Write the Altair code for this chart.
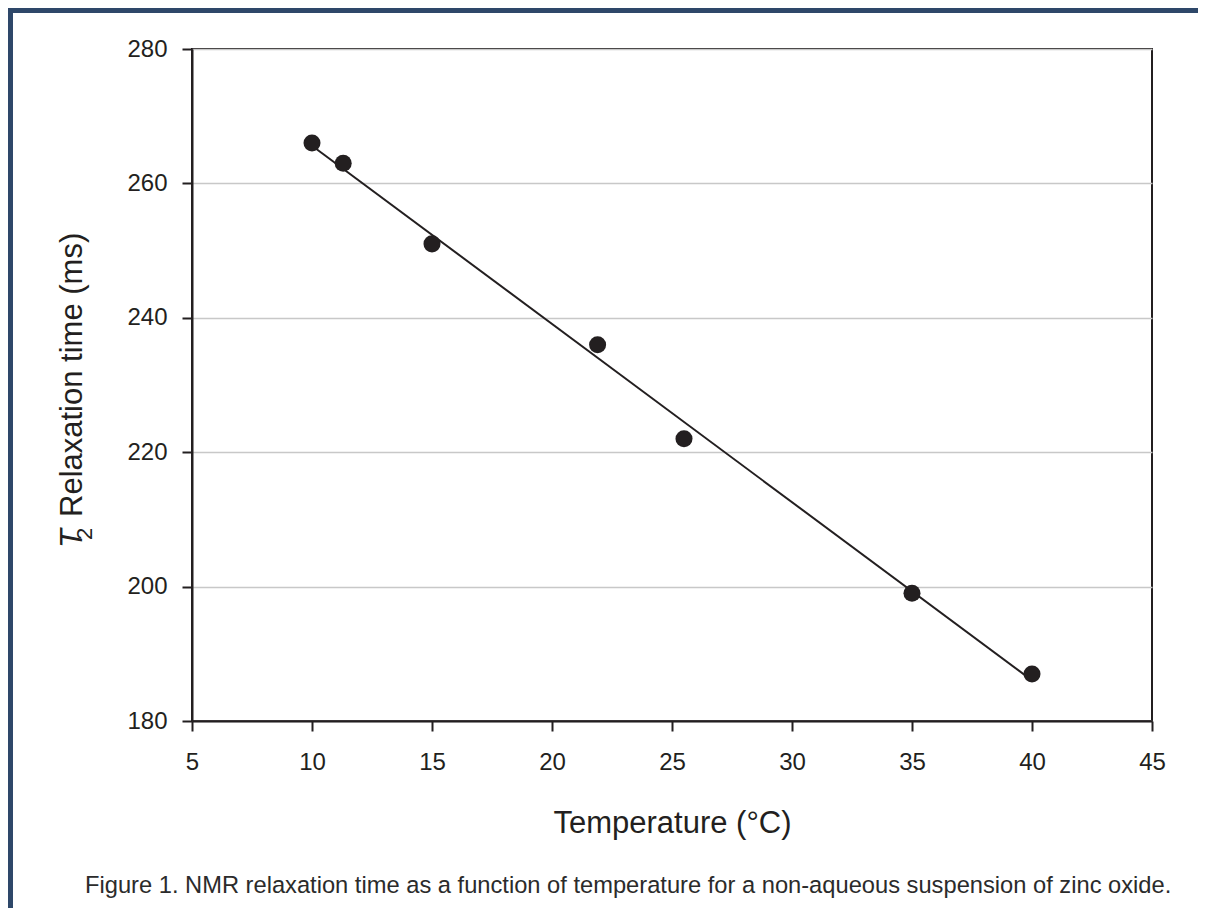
import altair as alt
import pandas as pd

# ---- data ----
temperature = [10.0, 11.3, 15.0, 21.9, 25.5, 35.0, 40.0]
t2_ms = [266, 263, 251, 236, 222, 199, 187]
x_ticks = [5, 10, 15, 20, 25, 30, 35, 40, 45]
y_ticks = [180, 200, 220, 240, 260, 280]
x_title = "Temperature (°C)"
y_title_T = "T"
y_title_sub = "2"
y_title_rest = "Relaxation time (ms)"
caption = ("Figure 1. NMR relaxation time as a function of temperature "
           "for a non-aqueous suspension of zinc oxide.")

df = pd.DataFrame({"temp": temperature, "t2": t2_ms})

W, H = 960, 672
PAD = {"left": 184, "top": 41, "right": 46, "bottom": 187}
INK = "#231f20"
NAVY = "#2e4769"
FONT = "Liberation Sans"

xenc = alt.X(
    "temp:Q",
    scale=alt.Scale(domain=[5, 45], nice=False, zero=False),
    axis=alt.Axis(values=x_ticks, title=x_title, grid=False,
                  labelPadding=19, titlePadding=34,
                  labelFlush=False, labelOverlap=False),
)
yenc = alt.Y(
    "t2:Q",
    scale=alt.Scale(domain=[180, 280], nice=False, zero=False),
    axis=alt.Axis(values=y_ticks, title=None, grid=True, labelPadding=15,
                  labelFlush=False, labelOverlap=False),
)

base = alt.Chart(df)
fit_line = (
    base.transform_regression("temp", "t2")
    .mark_line(color=INK, strokeWidth=2)
    .encode(x=xenc, y=yenc)
)
points = base.mark_circle(size=290, color=INK, opacity=1).encode(x=xenc, y=yenc)

one = pd.DataFrame({"k": [0]})
left_border = alt.Chart(one).mark_rule(color=NAVY, strokeWidth=5).encode(
    x=alt.value(-PAD["left"] + 2.5),
    y=alt.value(-PAD["top"]),
    y2=alt.value(H + PAD["bottom"]),
)
top_border = alt.Chart(one).mark_rule(color=NAVY, strokeWidth=5).encode(
    x=alt.value(-PAD["left"]),
    x2=alt.value(W + PAD["right"]),
    y=alt.value(-PAD["top"] + 2.5),
)

ytT = alt.Chart(pd.DataFrame({"label": [y_title_T]})).mark_text(
    font=FONT, color=INK, fontSize=31, fontStyle="italic", angle=270,
    align="left", baseline="alphabetic",
).encode(text="label:N", x=alt.value(-110.3), y=alt.value(499))

ytSub = alt.Chart(pd.DataFrame({"label": [y_title_sub]})).mark_text(
    font=FONT, color=INK, fontSize=22, angle=270,
    align="left", baseline="alphabetic",
).encode(text="label:N", x=alt.value(-100.3), y=alt.value(491))

ytRest = alt.Chart(pd.DataFrame({"label": [y_title_rest]})).mark_text(
    font=FONT, color=INK, fontSize=31, angle=270,
    align="left", baseline="alphabetic",
).encode(text="label:N", x=alt.value(-110.3), y=alt.value(468))

cap = alt.Chart(pd.DataFrame({"label": [caption]})).mark_text(
    font=FONT, color="#2b2b2b", fontSize=23.7,
    align="left", baseline="alphabetic",
).encode(text="label:N", x=alt.value(-107), y=alt.value(844))

chart = (
    alt.layer(left_border, top_border, fit_line, points, ytT, ytSub, ytRest, cap)
    .properties(
        width=W,
        height=H,
        padding=PAD,
        autosize=alt.AutoSizeParams(type="none"),
        background="white",
    )
    .configure_view(stroke=INK, strokeWidth=2)
    .configure_axis(
        labelFont=FONT,
        labelFontSize=24,
        labelColor=INK,
        titleFont=FONT,
        titleFontSize=31,
        titleFontWeight="normal",
        titleColor=INK,
        domainColor=INK,
        domainWidth=2,
        tickColor=INK,
        tickWidth=2,
        tickSize=10,
        gridColor="#c8c8c8",
        gridWidth=1.5,
    )
)

chart.save("out.html", embed_options={"renderer": "svg", "actions": False})
